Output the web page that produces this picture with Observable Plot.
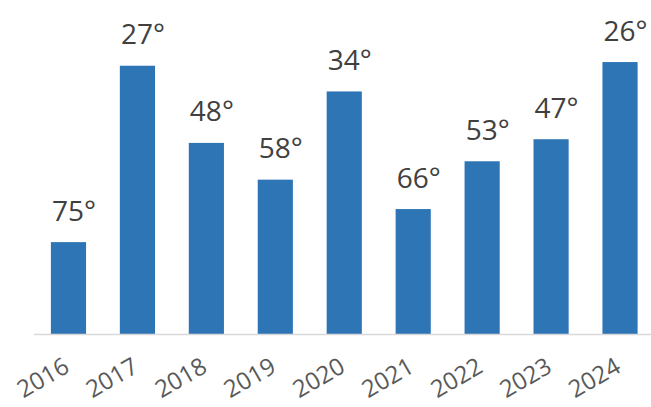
<!DOCTYPE html>
<html>
<head>
<meta charset="utf-8">
<script src="https://cdn.jsdelivr.net/npm/d3@7"></script>
<script src="https://cdn.jsdelivr.net/npm/@observablehq/plot@0.6"></script>
<style>
  html, body { margin: 0; padding: 0; background: #fff; }
  #chart svg { display: block; }
</style>
</head>
<body>
<div id="chart"></div>
<script>
const years = ["2016", "2017", "2018", "2019", "2020", "2021", "2022", "2023", "2024"];
const values = [25, 73, 52, 42, 66, 34, 47, 53, 74];
const labels = ["75°", "27°", "48°", "58°", "34°", "66°", "53°", "47°", "26°"];

const data = years.map((y, i) => ({year: y, value: values[i], label: labels[i]}));

const chart = Plot.plot({
  width: 651,
  height: 407,
  marginLeft: 34,
  marginRight: 0,
  marginTop: 40,
  marginBottom: 73,
  style: {fontFamily: "'Open Sans', 'Noto Sans', sans-serif", background: "#fff"},
  x: {domain: years, range: [34, 654.5], paddingInner: 0.49, paddingOuter: 0.245, round: false, label: null},
  y: {domain: [0, 80], axis: null},
  marks: [
    Plot.barY(data, {x: "year", y: "value", fill: "#2e75b6"}),
    Plot.ruleY([0], {stroke: "#d9d9d9", strokeWidth: 1.5}),
    Plot.text(data, {x: "year", y: "value", text: "label", dx: 5, dy: -22, lineAnchor: "bottom", fontSize: 28, fill: "#404040"}),
    Plot.axisX({tickRotate: -30, tickSize: 0, tickPadding: 30, dx: -2, fontSize: 24, color: "#595959", label: null})
  ]
});
document.getElementById("chart").append(chart);
</script>
</body>
</html>
